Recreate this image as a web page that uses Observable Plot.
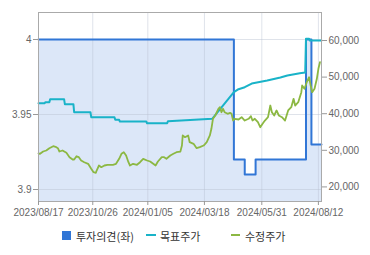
<!DOCTYPE html>
<html><head><meta charset="utf-8">
<script src="https://cdn.jsdelivr.net/npm/d3@7"></script>
<script src="https://cdn.jsdelivr.net/npm/@observablehq/plot@0.6"></script>
<style>
body{margin:0;background:#fff;}
#wrap{position:relative;width:370px;height:255px;overflow:hidden;}
#chart svg{display:block;}
.lg{position:absolute;font-family:"Noto Sans CJK KR","Noto Sans",sans-serif;font-size:11px;color:#333;line-height:16px;top:228px;white-space:nowrap;}
.sw{position:absolute;}
</style>
</head><body>
<div id="wrap"><div id="chart"></div>
<div class="sw" style="left:62px;top:231px;width:9px;height:9px;background:#3176d6"></div>
<div class="lg" style="left:76px">투자의견(좌)</div>
<div class="sw" style="left:146px;top:234px;width:10px;height:2px;background:#19b3c8"></div>
<div class="lg" style="left:160px">목표주가</div>
<div class="sw" style="left:231px;top:234px;width:9px;height:2px;background:#8cb843"></div>
<div class="lg" style="left:245px">수정주가</div>
</div>
<script>
// 투자의견 (left axis)
const opDates = ["2023-08-17","2024-04-25","2024-05-09","2024-05-23","2024-07-27","2024-08-03","2024-08-16"];
const opValues = [4, 3.92, 3.91, 3.92, 4, 3.93, 3.93];
// 목표주가 (right axis)
const targetDates = ["2023-08-17","2023-08-25","2023-08-26","2023-08-31","2023-09-01","2023-09-19","2023-09-20","2023-10-01","2023-10-02","2023-10-23","2023-10-24","2023-11-23","2023-11-24","2023-11-29","2023-11-30","2024-01-03","2024-01-04","2024-01-30","2024-01-31","2024-03-28","2024-04-25","2024-04-30","2024-05-09","2024-05-18","2024-06-07","2024-06-24","2024-07-03","2024-07-19","2024-07-26","2024-07-27","2024-07-31","2024-08-01","2024-08-16"];
const targetValues = [42870,42870,43140,43140,43960,43960,42600,42600,40400,40400,39040,39040,38330,38330,37870,37870,37400,37400,37950,38600,45900,46600,47240,48250,49070,49900,50440,51070,51250,60500,60500,60000,60000];
// 수정주가 (right axis)
const priceDates = ["2023-08-17","2023-08-19","2023-08-23","2023-08-27","2023-08-31","2023-09-05","2023-09-08","2023-09-11","2023-09-13","2023-09-17","2023-09-22","2023-09-26","2023-09-30","2023-10-02","2023-10-05","2023-10-08","2023-10-11","2023-10-15","2023-10-20","2023-10-24","2023-10-27","2023-10-30","2023-10-31","2023-11-03","2023-11-06","2023-11-10","2023-11-14","2023-11-21","2023-11-25","2023-11-29","2023-12-02","2023-12-05","2023-12-08","2023-12-11","2023-12-13","2023-12-17","2023-12-22","2023-12-26","2023-12-30","2024-01-04","2024-01-08","2024-01-12","2024-01-15","2024-01-18","2024-01-23","2024-01-26","2024-01-29","2024-02-03","2024-02-07","2024-02-11","2024-02-16","2024-02-18","2024-02-19","2024-02-22","2024-02-26","2024-02-28","2024-03-04","2024-03-08","2024-03-12","2024-03-17","2024-03-21","2024-03-25","2024-03-27","2024-03-29","2024-04-01","2024-04-05","2024-04-07","2024-04-09","2024-04-11","2024-04-13","2024-04-17","2024-04-20","2024-04-22","2024-04-24","2024-04-26","2024-05-01","2024-05-05","2024-05-09","2024-05-14","2024-05-17","2024-05-19","2024-05-22","2024-05-26","2024-05-29","2024-06-01","2024-06-04","2024-06-08","2024-06-11","2024-06-13","2024-06-16","2024-06-19","2024-06-22","2024-06-26","2024-06-30","2024-07-04","2024-07-08","2024-07-11","2024-07-13","2024-07-17","2024-07-21","2024-07-22","2024-07-25","2024-07-28","2024-07-31","2024-08-02","2024-08-04","2024-08-07","2024-08-10","2024-08-12","2024-08-14"];
const priceValues = [29130,29050,29670,29950,30580,31120,30960,30580,29670,29950,29320,28120,27490,27490,28390,28120,27220,26750,26310,24950,24020,23860,24480,25850,25390,25850,26040,26040,26310,27680,29050,29480,28580,26750,25850,26310,26040,26750,27680,27220,26940,26310,25850,26940,28120,28120,27680,28580,29050,29480,29670,31310,34050,33580,34050,32220,31780,30580,30850,31310,32220,34050,35880,38610,39510,41340,41780,40410,41340,40410,39970,40250,39970,38140,38610,38420,39050,38140,38610,39320,38140,38610,37680,36310,37240,38140,39050,42240,40410,39510,40880,39510,39050,38140,40880,41780,44070,42240,43140,45880,47710,46800,48610,49970,47710,45880,46800,49540,52270,54070];
// axes
const xTickDates = ["2023-08-17","2023-10-26","2024-01-05","2024-03-18","2024-05-31","2024-08-12"];
const leftTicks = [3.9, 3.95, 4];
const rightTicks = [20000, 30000, 40000, 50000, 60000];

const parse = d3.utcParse("%Y-%m-%d");
const opData = opDates.map((d, i) => ({date: parse(d), value: opValues[i]}));
const targetData = targetDates.map((d, i) => ({date: parse(d), value: targetValues[i]}));
const priceData = priceDates.map((d, i) => ({date: parse(d), value: priceValues[i]}));
const xTicks = xTickDates.map(parse);

const yMin = 16015, yMax = 67650;
const opToPrice = d3.scaleLinear().domain([3.9, 4]).range([19293, 60273]);
const leftTickPos = leftTicks.map(opToPrice);

const chart = Plot.plot({
  width: 370, height: 224,
  marginLeft: 38, marginRight: 49, marginTop: 12, marginBottom: 23,
  style: {fontFamily: "'Liberation Sans', Arial, sans-serif", fontSize: "10px", color: "#666", background: "#fff"},
  x: {type: "utc", domain: [parse("2023-08-17"), parse("2024-08-16")], axis: null},
  y: {domain: [yMin, yMax], axis: null},
  marks: [
    Plot.areaY(opData, {x: "date", y1: yMin, y2: d => opToPrice(d.value), curve: "step-after", fill: "#dce7f8"}),
    Plot.gridX(xTicks, {stroke: "#b8c2d0", strokeOpacity: 0.45}),
    Plot.gridY(leftTickPos, {stroke: "#b8c2d0", strokeOpacity: 0.45}),
    Plot.lineY(opData, {x: "date", y: d => opToPrice(d.value), curve: "step-after", stroke: "#3176d6", strokeWidth: 2}),
    Plot.lineY(targetData, {x: "date", y: "value", stroke: "#19b3c8", strokeWidth: 2}),
    Plot.lineY(priceData, {x: "date", y: "value", stroke: "#8cb843", strokeWidth: 1.8}),
    Plot.frame({stroke: "#aaa"}),
    Plot.axisY(leftTickPos, {anchor: "left", tickSize: 5, tickPadding: 2, stroke: "#999", fill: "#666", tickFormat: d => String(+opToPrice.invert(d).toFixed(2)), label: null}),
    Plot.axisY(rightTicks, {anchor: "right", tickSize: 5, tickPadding: 2, stroke: "#999", fill: "#666", tickFormat: d3.format(","), label: null}),
    Plot.axisX(xTicks, {anchor: "bottom", tickSize: 4, tickPadding: 3, stroke: "#999", fill: "#666", tickFormat: d3.utcFormat("%Y/%m/%d"), label: null})
  ]
});
document.getElementById("chart").appendChild(chart);
</script>
</body></html>
